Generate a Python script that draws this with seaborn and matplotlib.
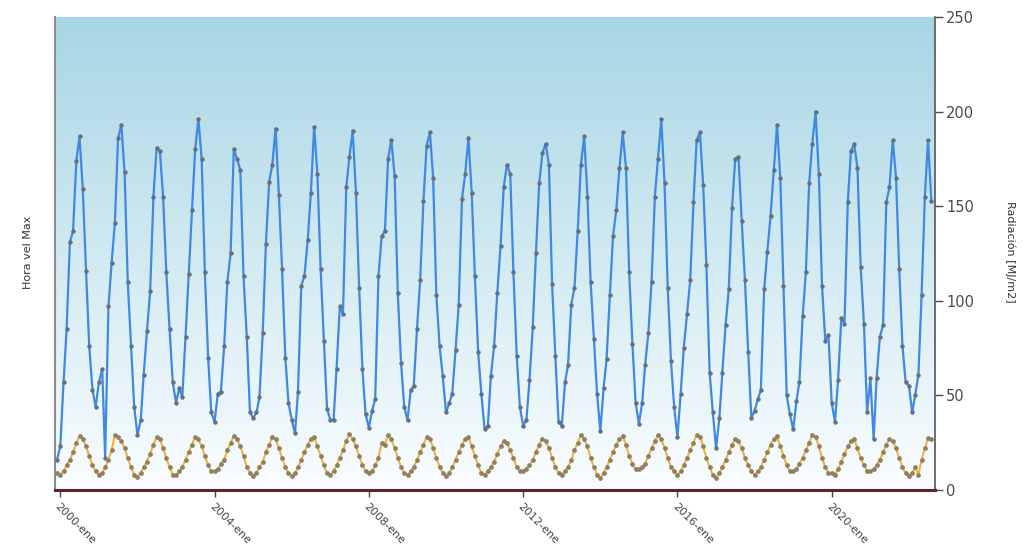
import numpy as np
import pandas as pd
import matplotlib
matplotlib.use("Agg")
import matplotlib.pyplot as plt
import seaborn as sns

# ---------------- data (monthly, 1999-dic .. 2022-ago) ----------------
start_month = "1999-12-01"

radiacion = [
    16,
    23, 57, 85, 131, 137, 174, 187, 159, 116, 76, 53, 44,
    57, 64, 17, 97, 120, 141, 186, 193, 168, 110, 76, 44,
    29, 37, 61, 84, 105, 155, 181, 179, 155, 115, 85, 57,
    46, 54, 49, 81, 114, 148, 180, 196, 175, 115, 70, 41,
    36, 51, 52, 76, 110, 125, 180, 175, 169, 113, 81, 41,
    38, 41, 49, 83, 130, 163, 172, 191, 156, 117, 70, 46,
    37, 30, 52, 108, 113, 132, 157, 192, 167, 117, 79, 43,
    37, 37, 64, 97, 93, 160, 176, 190, 157, 107, 64, 40,
    33, 42, 48, 113, 134, 137, 175, 185, 166, 104, 67, 44,
    37, 53, 55, 85, 111, 153, 182, 189, 165, 103, 76, 60,
    41, 46, 51, 74, 98, 154, 167, 186, 157, 113, 73, 51,
    32, 34, 60, 76, 104, 129, 160, 172, 167, 115, 71, 44,
    34, 37, 58, 86, 125, 162, 178, 183, 172, 109, 71, 36,
    34, 57, 66, 98, 107, 137, 172, 187, 155, 110, 80, 51,
    31, 54, 69, 103, 134, 148, 170, 189, 170, 115, 77, 46,
    35, 46, 66, 83, 110, 155, 175, 196, 162, 107, 68, 44,
    28, 51, 75, 93, 111, 152, 185, 189, 161, 119, 62, 41,
    22, 38, 62, 87, 106, 149, 175, 176, 142, 111, 73, 38,
    42, 48, 53, 106, 126, 145, 169, 193, 165, 108, 50, 40,
    32, 47, 57, 92, 115, 162, 183, 200, 167, 108, 79, 82,
    46, 36, 58, 91, 88, 152, 179, 183, 170, 118, 88, 41,
    59, 27, 59, 81, 87, 152, 160, 185, 165, 117, 76, 57,
    55, 41, 50, 61, 103, 155, 185, 153,
]

hora_vel_max = [
    9,
    8, 10, 13, 16, 20, 25, 28.5, 27, 23, 18, 13, 10,
    8, 9, 12, 16, 21, 29, 28, 26, 22, 17, 12, 8,
    7, 9, 12, 15, 19, 24, 28, 27, 22, 17, 12, 8,
    8, 10, 12, 16, 20, 24, 28, 27, 23, 18, 13, 10,
    10, 11, 14, 16, 21, 25, 28.5, 27, 23, 18, 12, 9,
    7.5, 9, 12, 15, 20, 24, 28, 27, 22, 17, 12, 9,
    7.5, 9, 12, 16, 20, 24, 27, 28, 23, 18, 13, 9,
    8, 10, 13, 17, 21, 26, 29.4, 27, 23, 18, 13, 10,
    9, 10, 13, 17, 25, 24, 29, 27, 22, 17, 12, 9,
    8, 10, 12, 16, 20, 24, 28, 27, 22, 17, 12, 9,
    7.5, 9, 12, 16, 20, 24, 27, 28, 23, 18, 13, 9,
    8, 10, 12, 15, 19, 23, 26, 25, 21, 17, 12, 10,
    10, 11, 13, 16, 20, 24, 27, 26, 22, 17, 12, 9,
    8, 10, 12, 16, 21, 25, 29, 27, 23, 17, 12, 8,
    6.5, 9, 12, 16, 20, 24, 27, 28.5, 24, 18, 14, 11,
    11, 12, 14, 18, 22, 26, 29, 27, 22, 17, 12, 10,
    8, 10, 13, 17, 21, 25, 29, 28, 23, 17, 12, 8,
    6.5, 9, 12, 16, 20, 24, 27, 26, 22, 17, 13, 10,
    8, 10, 12, 16, 20, 24, 27, 28.5, 23, 18, 13, 10,
    10, 11, 14, 17, 21, 25, 29, 28, 23, 17, 12, 9,
    9, 8, 11, 15, 19, 23, 26, 27, 22, 17, 13, 10,
    10, 11, 13, 16, 20, 24, 27, 26, 22, 17, 12, 9,
    7.5, 9, 12, 8, 16, 22, 27.5, 27,
]

tick_years = [2000, 2004, 2008, 2012, 2016, 2020]
tick_labels = [f"{y}-ene" for y in tick_years]
y_ticks = [0, 50, 100, 150, 200, 250]

# ---------------- build frame ----------------
dates = pd.date_range(start_month, periods=len(radiacion), freq="MS")
df = pd.DataFrame({"fecha": dates, "rad": radiacion, "hora": hora_vel_max})

sns.set_theme(style="white")
plt.rcParams["font.family"] = ["DejaVu Sans"]

fig = plt.figure(figsize=(10.24, 5.44), dpi=100)
ax = fig.add_axes([55 / 1024, 1 - 490 / 544, (935 - 55) / 1024, (490 - 17) / 544])

# gradient background
grad = np.linspace(0, 1, 256).reshape(-1, 1)
top = np.array([168, 214, 228]) / 255
bot = np.array([250, 253, 255]) / 255
img = (top[None, None, :] * (1 - grad[:, :, None]) + bot[None, None, :] * grad[:, :, None])
ax.imshow(img, extent=[0, 1, 0, 1], transform=ax.transAxes, aspect="auto",
          zorder=0, interpolation="bicubic")

sns.lineplot(data=df, x="fecha", y="rad", ax=ax, color="#4088e2", linewidth=1.6,
             marker="o", markersize=2.4, markerfacecolor="#66707a",
             markeredgecolor="#66707a", zorder=3)
sns.lineplot(data=df, x="fecha", y="hora", ax=ax, color="#f0b43c", linewidth=1.5,
             marker="o", markersize=2.6, markerfacecolor="#8f7f62",
             markeredgecolor="#8f7f62", zorder=3)

ax.set_xlim(pd.Timestamp("1999-11-12"), pd.Timestamp("2022-09-05"))
ax.set_ylim(0, 250)

ax.set_xticks([pd.Timestamp(f"{y}-01-01") for y in tick_years])
ax.set_xticklabels(tick_labels, rotation=-45, ha="left", rotation_mode="anchor",
                   fontsize=8, color="#444444")
ax.tick_params(axis="x", direction="out", length=5, width=1, colors="#444444",
               bottom=True, pad=3)

ax.yaxis.tick_right()
ax.set_yticks(y_ticks)
ax.set_yticklabels([str(v) for v in y_ticks], fontsize=10.5, color="#4a4a4a")
ax.tick_params(axis="y", direction="out", length=6, width=1, colors="#4a4a4a",
               right=True, left=False, pad=2)

ax.set_xlabel("")
ax.set_ylabel("")
ax.grid(False)

ax.spines["top"].set_visible(False)
ax.spines["left"].set_color("#8c8c8c")
ax.spines["left"].set_linewidth(1.5)
ax.spines["right"].set_color("#555555")
ax.spines["right"].set_linewidth(1.2)
ax.spines["bottom"].set_color("#5a2626")
ax.spines["bottom"].set_linewidth(2.2)

fig.text(28 / 1024, 1 - 252 / 544, "Hora vel Max", rotation=90, ha="center",
         va="center", fontsize=8, color="#333333")
fig.text(1010 / 1024, 1 - 252 / 544, "Radiación [MJ/m2]", rotation=270, ha="center",
         va="center", fontsize=8, color="#333333")

fig.savefig("out.png", dpi=100)
